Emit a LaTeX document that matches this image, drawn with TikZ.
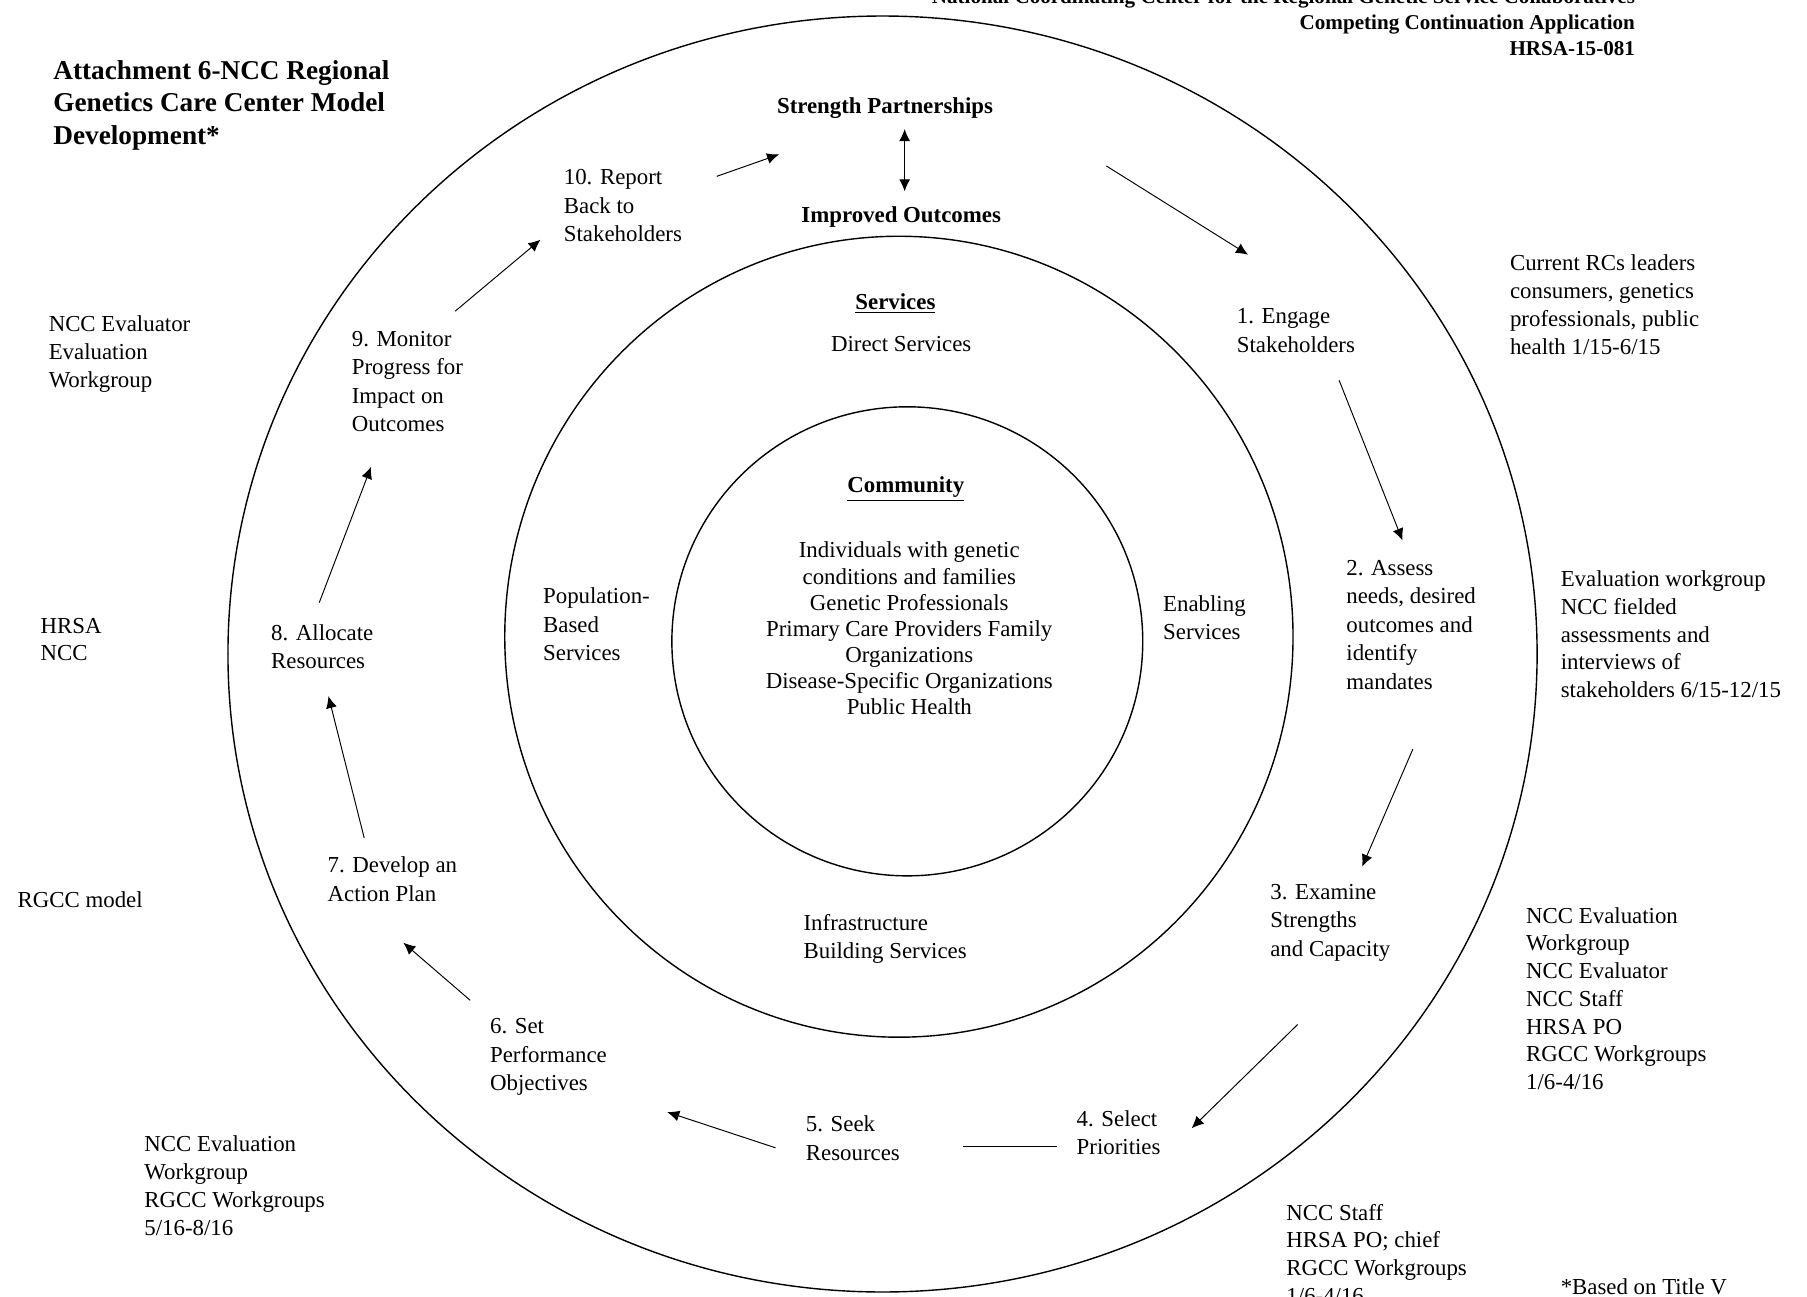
\documentclass[tikz,border=0pt]{standalone}
\usepackage{fontspec}
\setmainfont{Liberation Serif}
\usepackage{tikz}
\usetikzlibrary{arrows,arrows.meta,positioning,calc}
\tikzstyle{NOTE_1} = [align=left, anchor=west, inner sep=0pt, yshift=-1.6pt, font=\fontsize{13}{15.8}\selectfont]
\tikzstyle{STAGE_1} = [align=left, anchor=west, inner sep=0pt, yshift=-1.6pt, font=\fontsize{13}{16.2}\selectfont]
\tikzstyle{TITLE_1} = [align=left, anchor=west, inner sep=0pt, yshift=-1.6pt, font=\fontsize{15.5}{18.4}\selectfont\bfseries]
\tikzstyle{HEADER_1} = [align=right, anchor=east, inner sep=0pt, font=\fontsize{12}{14.9}\selectfont\bfseries]
\tikzstyle{BOLD_1} = [inner sep=0pt, yshift=-1.6pt, font=\fontsize{13}{15.8}\selectfont\bfseries]
\tikzstyle{CENTRE_1} = [align=center, inner sep=0pt, yshift=-1.6pt, font=\fontsize{13}{14.9}\selectfont]
\tikzstyle{RING} = [draw, line width=0.8pt]
\tikzstyle{ARROW} = [draw, line width=0.55pt, -{Latex[length=2.4mm,width=2.2mm]}]
\tikzstyle{LINE} = [draw, line width=0.55pt]

\begin{document}
\begin{tikzpicture}[x=0.023048cm, y=-0.023048cm]
% Define
\path [fill=white, use as bounding box] (0,0) rectangle (1568,1125);
\tikzstyle{DARROW} = [draw, line width=0.55pt, {Latex[length=2.4mm,width=2.2mm]}-{Latex[length=2.4mm,width=2.2mm]}]
% Rings
\draw [RING] (765.8,567.5) ellipse [x radius=568, y radius=553.6];
\draw [RING] (780,552.5) ellipse [x radius=342, y radius=347.5];
\draw [RING] (787.3,556.5) ellipse [x radius=204.3, y radius=203.5];
% Place node
\node [HEADER_1] (HEADER) at (1419,19.5) {National Coordinating Center for the Regional Genetic Service Collaboratives\\ Competing Continuation Application\\ HRSA-15-081};
\node [TITLE_1] (TITLE) at (46,89) {Attachment 6-NCC Regional\\ Genetics Care Center Model\\ Development*};
%
\node [BOLD_1] (PARTNERSHIPS) at (768,91) {Strength Partnerships};
\node [BOLD_1] (OUTCOMES) at (782,186) {Improved Outcomes};
\node [STAGE_1] (REPORT_BACK) at (489,176.3) {10. Report\\ Back to\\ Stakeholders};
\node [STAGE_1] (ENGAGE) at (1073,284.5) {1. Engage\\ Stakeholders};
\node [STAGE_1] (ASSESS) at (1168,539.8) {2. Assess\\ needs, desired\\ outcomes and\\ identify\\ mandates};
\node [STAGE_1] (EXAMINE) at (1102,798.3) {3. Examine\\ Strengths\\ and Capacity};
\node [STAGE_1] (SELECT) at (934,980.5) {4. Select\\ Priorities};
\node [STAGE_1] (SEEK) at (699,985) {5. Seek\\ Resources};
\node [STAGE_1] (OBJECTIVES) at (425,915) {6. Set\\ Performance\\ Objectives};
\node [STAGE_1] (ACTION_PLAN) at (284,760.5) {7. Develop an\\ Action Plan};
\node [STAGE_1] (ALLOCATE) at (235,558.5) {8. Allocate\\ Resources};
\node [STAGE_1] (MONITOR) at (305,328.5) {9. Monitor\\ Progress for\\ Impact on\\ Outcomes};
%
\node [BOLD_1] (SERVICES) at (777,261) {\underline{Services}};
\node [CENTRE_1] (DIRECT) at (782,296) {Direct Services};
\node [BOLD_1] (COMMUNITY) at (786,422) {\underline{Community}};
\node [CENTRE_1] (MEMBERS) at (789,543) {Individuals with genetic\\ conditions and families\\ Genetic Professionals\\ Primary Care Providers Family\\ Organizations\\ Disease-Specific Organizations\\ Public Health};
\node [STAGE_1] (POPULATION) at (471,539.3) {Population-\\ Based\\ Services};
\node [STAGE_1] (ENABLING) at (1009,533.5) {Enabling\\ Services};
\node [STAGE_1] (INFRASTRUCTURE) at (697,812.5) {Infrastructure\\ Building Services};
%
\node [NOTE_1] (WHO_1) at (1310,262) {Current RCs leaders\\ consumers, genetics\\ professionals, public\\ health 1/15-6/15};
\node [NOTE_1] (WHO_2) at (1354,548) {Evaluation workgroup\\ NCC fielded\\ assessments and\\ interviews of\\ stakeholders 6/15-12/15};
\node [NOTE_1] (WHO_3) at (1324,864) {NCC Evaluation\\ Workgroup\\ NCC Evaluator\\ NCC Staff\\ HRSA PO\\ RGCC Workgroups\\ 1/6-4/16};
\node [NOTE_1] (WHO_4) at (1116,1085.5) {NCC Staff\\ HRSA PO; chief\\ RGCC Workgroups\\ 1/6-4/16};
\node [NOTE_1] (WHO_5) at (125,1026.5) {NCC Evaluation\\ Workgroup\\ RGCC Workgroups\\ 5/16-8/16};
\node [NOTE_1] (WHO_6) at (15,778) {RGCC model};
\node [NOTE_1] (WHO_7) at (35,552.5) {HRSA\\ NCC};
\node [NOTE_1] (WHO_8) at (42,304.7) {NCC Evaluator\\ Evaluation\\ Workgroup};
\node [NOTE_1] (FOOTNOTE) at (1354,1114) {*Based on Title V};
% Arrow ends
\coordinate (a_1) at (622,153);   \coordinate (b_1) at (676,134);
\coordinate (a_2) at (960,144);   \coordinate (b_2) at (1083,221);
\coordinate (a_3) at (1162,330);  \coordinate (b_3) at (1217,469);
\coordinate (a_4) at (1226,650);  \coordinate (b_4) at (1182,752);
\coordinate (a_5) at (1126,889);  \coordinate (b_5) at (1034,979);
\coordinate (a_6) at (917,995);   \coordinate (b_6) at (836,995);
\coordinate (a_7) at (673,996);   \coordinate (b_7) at (579,965);
\coordinate (a_8) at (408,868);   \coordinate (b_8) at (350,818);
\coordinate (a_9) at (316,727);   \coordinate (b_9) at (285,604);
\coordinate (a_10) at (277,523);  \coordinate (b_10) at (322,405);
\coordinate (a_11) at (395,270);  \coordinate (b_11) at (469,208);
\coordinate (a_12) at (785,112);  \coordinate (b_12) at (785,166);
% LINES and ARROWS
\path [ARROW] (a_1) -- (b_1);
\path [ARROW] (a_2) -- (b_2);
\path [ARROW] (a_3) -- (b_3);
\path [ARROW] (a_4) -- (b_4);
\path [ARROW] (a_5) -- (b_5);
\path [LINE] (a_6) -- (b_6);
\path [ARROW] (a_7) -- (b_7);
\path [ARROW] (a_8) -- (b_8);
\path [ARROW] (a_9) -- (b_9);
\path [ARROW] (a_10) -- (b_10);
\path [ARROW] (a_11) -- (b_11);
\path [DARROW] (a_12) -- (b_12);
\end{tikzpicture}
\end{document}
